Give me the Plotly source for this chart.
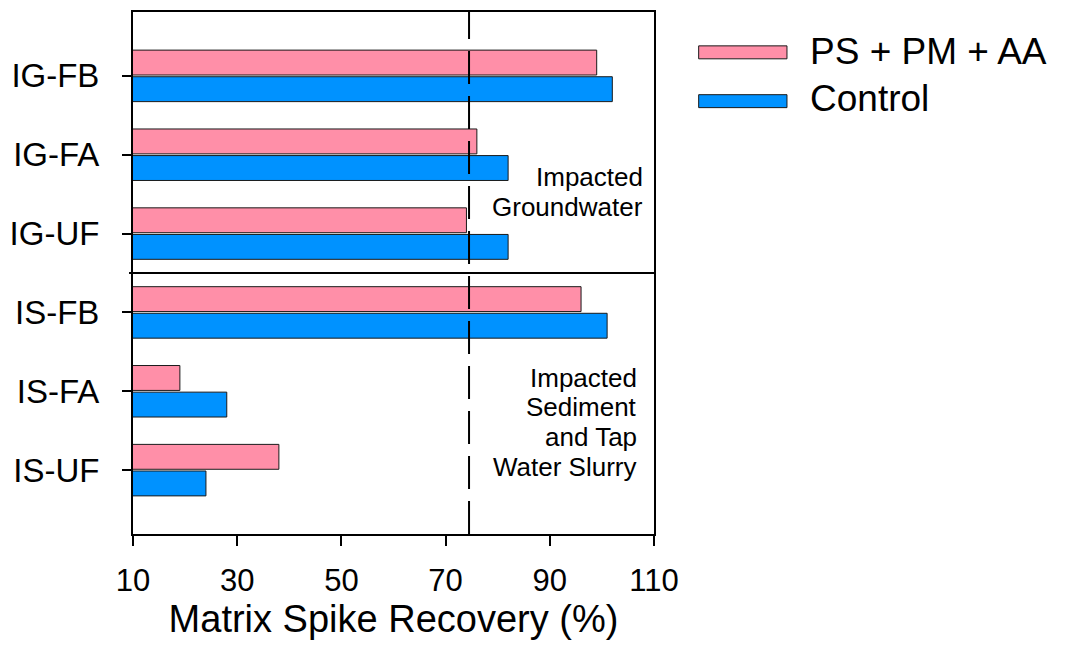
import plotly.graph_objects as go

# Sample labels, top to bottom
categories = ["IG-FB", "IG-FA", "IG-UF", "IS-FB", "IS-FA", "IS-UF"]
# Matrix spike recovery (%)
treated = [99, 76, 74, 96, 19, 38]      # PS + PM + AA
control = [102, 82, 82, 101, 28, 24]    # Control
x_ticks = [10, 30, 50, 70, 90, 110]
criterion = 74.5                         # acceptance line (%)

PINK = "#FF8FA8"
BLUE = "#0092FF"
EDGE = "#1a1a1a"
FONT = "Liberation Sans, Arial, sans-serif"

n = len(categories)
ypos = [n - i for i in range(n)]

fig = go.Figure()
fig.add_trace(go.Bar(
    y=ypos, x=control, orientation="h", name="Control",
    marker=dict(color=BLUE, line=dict(color=EDGE, width=1)),
    showlegend=False,
))
fig.add_trace(go.Bar(
    y=ypos, x=treated, orientation="h", name="PS + PM + AA",
    marker=dict(color=PINK, line=dict(color=EDGE, width=1)),
    showlegend=False,
))

W, H = 1068, 649
L, R, T, B = 129, 414, 10, 115
pw, ph = W - L - R, H - T - B


def px(xp):
    return (xp - L) / pw


def py(yp):
    return (H - B - yp) / ph


shapes = [
    # separator between the two sample groups
    dict(type="line", xref="paper", yref="y", x0=px(125), x1=1, y0=3.5, y1=3.5,
         line=dict(color="black", width=2)),
    # recovery criterion
    dict(type="line", xref="x", yref="paper", x0=criterion, x1=criterion, y0=0, y1=1,
         line=dict(color="black", width=2, dash="33px,12px")),
    # legend swatches
    dict(type="rect", xref="paper", yref="paper", x0=px(699), x1=px(788),
         y0=py(57), y1=py(44), fillcolor=PINK, line=dict(color=EDGE, width=1)),
    dict(type="rect", xref="paper", yref="paper", x0=px(699), x1=px(788),
         y0=py(106), y1=py(93), fillcolor=BLUE, line=dict(color=EDGE, width=1)),
]

annotations = [
    dict(text="PS + PM + AA", xref="paper", yref="paper", x=px(809), y=py(50),
         xanchor="left", yanchor="middle", showarrow=False,
         font=dict(size=37, color="black", family=FONT)),
    dict(text="Control", xref="paper", yref="paper", x=px(809), y=py(97),
         xanchor="left", yanchor="middle", showarrow=False,
         font=dict(size=37, color="black", family=FONT)),
]

group_labels = [
    (["Impacted", "Groundwater"], 645, 185),
    (["Impacted", "Sediment", "and Tap", "Water Slurry"], 639, 386),
]
for lines, right, base in group_labels:
    for k, line in enumerate(lines):
        annotations.append(dict(
            text=line, xref="paper", yref="paper", x=px(right), y=py(base + 30 * k - 9),
            xanchor="right", yanchor="middle", showarrow=False,
            font=dict(size=26, color="black", family=FONT),
        ))

fig.update_layout(
    width=W, height=H,
    margin=dict(l=L, r=R, t=T, b=B),
    paper_bgcolor="white", plot_bgcolor="white",
    barmode="group", bargap=0.325, bargroupgap=0.065,
    font=dict(family=FONT, color="black"),
    shapes=shapes, annotations=annotations,
    showlegend=False,
    xaxis=dict(
        range=[10, 110], tickvals=x_ticks, ticktext=[str(v) for v in x_ticks],
        ticks="outside", ticklen=10, tickwidth=2, tickcolor="black",
        showline=True, linewidth=2, linecolor="black", mirror=True,
        showgrid=False, zeroline=False,
        tickfont=dict(size=31, family=FONT), ticklabelstandoff=8,
        title=dict(text="Matrix Spike Recovery (%)", font=dict(size=38, family=FONT),
                   standoff=8),
    ),
    yaxis=dict(
        range=[0.19, 6.81], tickvals=ypos, ticktext=categories,
        ticks="outside", ticklen=9, tickwidth=2, tickcolor="black",
        showline=True, linewidth=2, linecolor="black", mirror=True,
        showgrid=False, zeroline=False,
        tickfont=dict(size=33, family=FONT), ticklabelstandoff=16,
    ),
)

fig.write_html("out.html")
